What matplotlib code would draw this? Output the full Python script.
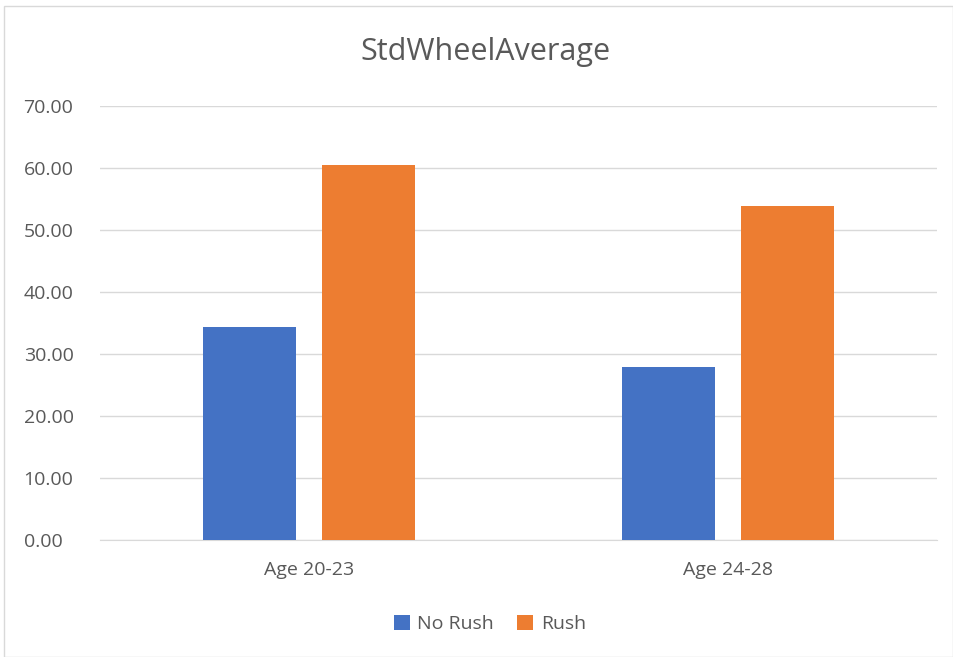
import numpy as np
import matplotlib.pyplot as plt
from matplotlib.patches import Rectangle

categories = ["Age 20-23", "Age 24-28"]
series_names = ["No Rush", "Rush"]
no_rush = [34.4, 27.9]
rush = [60.5, 53.9]
colors = ["#4472C4", "#ED7D31"]

plt.rcParams['font.family'] = ['Open Sans', 'DejaVu Sans']
text_color = "#595959"

fig = plt.figure(figsize=(9.54, 6.57), dpi=100)
# outer chart frame
fig.patches.append(Rectangle((4 / 954, 0), 949 / 954, 651 / 657, transform=fig.transFigure,
                             fill=False, edgecolor="#D9D9D9", linewidth=1))

ax = fig.add_axes([100 / 954, (657 - 540) / 657, 837 / 954, 434 / 657])

x = np.arange(len(categories))
w = 0.222
off = 0.142
ax.bar(x - off, no_rush, w, color=colors[0], label=series_names[0], zorder=3)
ax.bar(x + off, rush, w, color=colors[1], label=series_names[1], zorder=3)

ax.set_xlim(-0.5, len(categories) - 0.5)
ax.set_ylim(0, 70)
ax.set_yticks(np.arange(0, 71, 10))
ax.set_yticklabels([f"{v:.2f}" for v in np.arange(0, 71, 10)], ha="left")
ax.set_xticks(x)
ax.set_xticklabels(categories)
ax.grid(axis="y", color="#D9D9D9", linewidth=1, zorder=0)
for s in ["top", "right", "left"]:
    ax.spines[s].set_visible(False)
ax.spines["bottom"].set_color("#D9D9D9")
ax.tick_params(axis="both", length=0, labelsize=14, colors=text_color)
ax.tick_params(axis="x", pad=15)
ax.tick_params(axis="y", pad=55)

fig.text(486 / 954, 1 - 52 / 657, "StdWheelAverage", ha="center", va="center",
         fontsize=22, color=text_color)

leg = fig.legend(loc="center", bbox_to_anchor=(490 / 954, 1 - 624 / 657), ncol=2,
                 frameon=False, fontsize=14, handlelength=0.8, handleheight=0.8,
                 columnspacing=1.2, handletextpad=0.4)
for t in leg.get_texts():
    t.set_color(text_color)

fig.savefig("out.png", dpi=100)
